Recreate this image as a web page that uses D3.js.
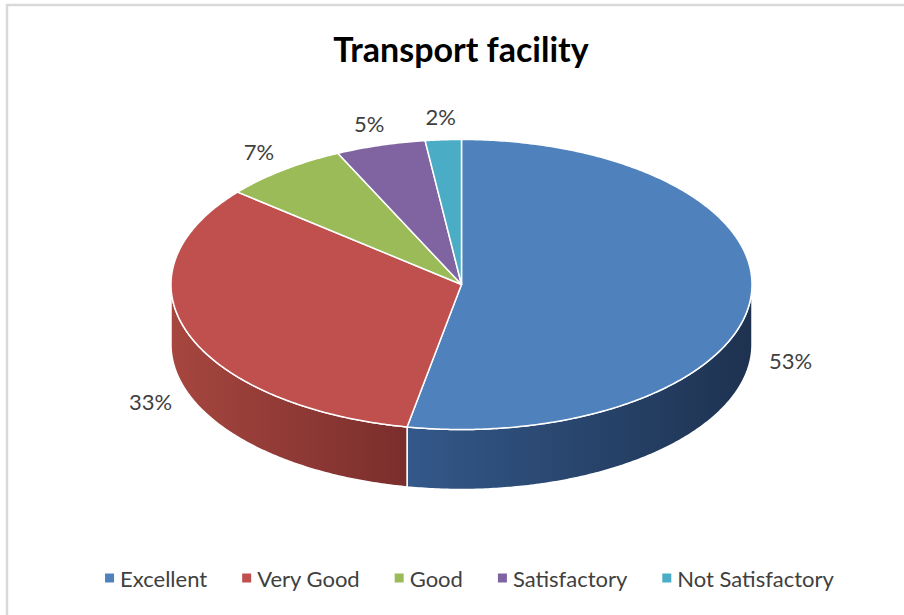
<!DOCTYPE html>
<html>
<head>
<meta charset="utf-8">
<script src="https://cdn.jsdelivr.net/npm/d3@7"></script>
<style>
  body { margin: 0; background: #fff; }
  svg { display: block; }
</style>
</head>
<body>
<script>
// chart data
const categories = ["Excellent", "Very Good", "Good", "Satisfactory", "Not Satisfactory"];
const values = [53, 33, 7, 5, 2];
const labels = ["53%", "33%", "7%", "5%", "2%"];
const topColors = ["#4f81bd", "#c0504d", "#9bbb59", "#8064a2", "#4bacc6"];
const sideLight = ["#33588a", "#a6463f", "#7e9a45", "#684f86", "#3a90a6"];
const sideDark = ["#1e3250", "#7a2e2c", "#5e7533", "#4d3b64", "#2b6e80"];

const svg_w = 904, svg_h = 615;
const svg = d3.select("body").append("svg")
    .attr("width", svg_w)
    .attr("height", svg_h);

// frame (only top and left visible in the crop)
svg.append("rect")
    .attr("x", 7).attr("y", 5)
    .attr("width", 1000).attr("height", 1000)
    .attr("fill", "none")
    .attr("stroke", "#d9d9d9")
    .attr("stroke-width", 2.5);

svg.append("text")
    .attr("x", 461).attr("y", 62)
    .attr("text-anchor", "middle")
    .attr("font-family", "Lato, 'Open Sans', sans-serif")
    .attr("font-weight", "bold")
    .attr("font-size", 34)
    .attr("fill", "#000")
    .text("Transport facility");

// pie geometry
const cx = 461.5, cy = 284.5, rx = 290.5, ry = 145, depth = 60;
const color = d3.scaleOrdinal().domain(categories).range(topColors);

const pie = d3.pie().sort(null).value(d => d.v).startAngle(0).endAngle(2 * Math.PI);
const arcs = pie(categories.map((c, i) => ({ c: c, v: values[i], i: i })));

function pt(a, dy) {
    return [cx + rx * Math.sin(a), cy - ry * Math.cos(a) + (dy || 0)];
}
function edge(a0, a1, dy) {
    const n = Math.max(2, Math.ceil((a1 - a0) / 0.01));
    const pts = [];
    for (let k = 0; k <= n; k++) pts.push(pt(a0 + (a1 - a0) * k / n, dy));
    return pts;
}
const line = d3.line();

const defs = svg.append("defs");

// side walls (only the front half is visible)
arcs.forEach(d => {
    const a0 = Math.max(d.startAngle, Math.PI / 2);
    const a1 = Math.min(d.endAngle, 3 * Math.PI / 2);
    if (a1 <= a0) return;
    const i = d.data.i;
    const g = defs.append("linearGradient")
        .attr("id", "side_" + i)
        .attr("x1", 0).attr("x2", 1).attr("y1", 0).attr("y2", 0);
    g.append("stop").attr("offset", 0).attr("stop-color", sideLight[i]);
    g.append("stop").attr("offset", 1).attr("stop-color", sideDark[i]);
    const top = edge(a0, a1, 0);
    const bot = edge(a0, a1, depth).reverse();
    svg.append("path")
        .attr("d", line(top.concat(bot)) + "Z")
        .attr("fill", "url(#side_" + i + ")")
        .attr("stroke", "#fff")
        .attr("stroke-width", 1.5)
        .attr("stroke-linejoin", "round");
});

// top faces
svg.selectAll("path.top")
    .data(arcs)
    .enter()
    .append("path")
    .attr("class", "top")
    .attr("d", d => line([[cx, cy]].concat(edge(d.startAngle, d.endAngle, 0))) + "Z")
    .attr("fill", d => color(d.data.c))
    .attr("stroke", "#fff")
    .attr("stroke-width", 1.5)
    .attr("stroke-linejoin", "round");

// data labels
const lrx = rx + 40, lry = ry + 23;
svg.selectAll("text.lbl")
    .data(arcs)
    .enter()
    .append("text")
    .attr("class", "lbl")
    .attr("x", d => {
        const a = (d.startAngle + d.endAngle) / 2;
        return cx + lrx * Math.sin(a);
    })
    .attr("y", d => {
        const a = (d.startAngle + d.endAngle) / 2;
        const c = Math.cos(a);
        return cy - lry * c + (c < 0 ? depth : 0);
    })
    .attr("text-anchor", "middle")
    .attr("dominant-baseline", "central")
    .attr("font-family", "Lato, 'Open Sans', sans-serif")
    .attr("font-size", 22)
    .attr("fill", "#404040")
    .text(d => labels[d.data.i]);

// legend
const legend = svg.append("g");
const legY = 578, sq = 9, sqGap = 6, itemGap = 35;
let lx = 0;
categories.forEach((c, i) => {
    const it = legend.append("g").attr("transform", "translate(" + lx + ",0)");
    it.append("rect")
        .attr("x", 0).attr("y", legY - sq / 2)
        .attr("width", sq).attr("height", sq)
        .attr("fill", color(c));
    const t = it.append("text")
        .attr("x", sq + sqGap).attr("y", legY)
        .attr("dominant-baseline", "central")
        .attr("font-family", "Lato, 'Open Sans', sans-serif")
        .attr("font-size", 22)
        .attr("fill", "#404040")
        .text(c);
    lx += sq + sqGap + t.node().getComputedTextLength() + itemGap;
});
const legW = lx - itemGap;
legend.attr("transform", "translate(" + (469.5 - legW / 2) + ",0)");
</script>
</body>
</html>
